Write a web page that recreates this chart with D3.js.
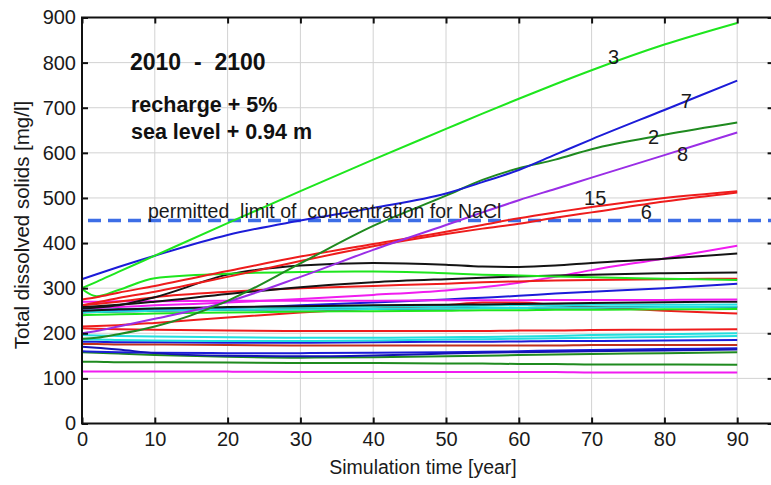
<!DOCTYPE html>
<html>
<head>
<meta charset="utf-8">
<script src="https://cdn.jsdelivr.net/npm/d3@7"></script>
<style>
  html, body { margin: 0; padding: 0; background: #fff; }
  svg { display: block; font-family: "Liberation Sans", Arial, sans-serif; }
</style>
</head>
<body>
<svg id="chart" width="771" height="485"></svg>
<script>
// Simulation years at which each TDS curve is sampled
const years = [0, 2, 5, 10, 20, 30, 40, 50, 55, 60, 65, 70, 80, 90];

// Total dissolved solids [mg/l] per observation well
const tdsW3   = [300, 314, 336, 372, 444, 515, 585, 653, 687, 720, 752, 783, 840, 888];
const tdsW7   = [320, 331, 347, 372, 418, 450, 478, 510, 535, 562, 596, 630, 695, 760];
const tdsW2   = [188, 190, 198, 215, 272, 355, 438, 505, 540, 566, 585, 608, 640, 667];
const tdsW8   = [200, 205, 215, 232, 270, 325, 385, 440, 468, 495, 520, 545, 595, 645];
const tdsW15  = [275, 280, 290, 305, 338, 370, 398, 425, 440, 455, 468, 480, 500, 515];
const tdsW6   = [262, 268, 278, 292, 325, 360, 393, 420, 432, 443, 456, 468, 492, 512];
const tdsG1   = [298, 282, 296, 322, 332, 336, 337, 333, 330, 328, 326, 324, 321, 318];
const tdsK1   = [255, 257, 262, 280, 330, 350, 356, 352, 348, 347, 350, 356, 365, 377];
const tdsK2   = [258, 260, 263, 270, 287, 302, 313, 320, 323, 326, 328, 330, 333, 335];
const tdsR1   = [262, 265, 270, 280, 292, 300, 305, 310, 313, 315, 317, 318, 320, 321];
const tdsM1   = [255, 256, 258, 262, 268, 276, 285, 295, 302, 312, 325, 340, 366, 394];
const tdsM2   = [270, 270, 271, 271, 272, 272, 272, 273, 273, 273, 274, 274, 274, 275];
const tdsK3   = [250, 251, 253, 255, 258, 260, 262, 263, 264, 265, 266, 267, 269, 270];
const tdsC1   = [252, 253, 254, 255, 257, 258, 259, 260, 261, 262, 262, 263, 263, 264];
const tdsC2   = [246, 247, 248, 250, 252, 253, 254, 255, 256, 256, 257, 257, 258, 259];
const tdsB1   = [248, 249, 250, 252, 256, 262, 268, 275, 279, 283, 288, 292, 300, 310];
const tdsG2   = [240, 241, 242, 244, 246, 248, 249, 250, 251, 251, 252, 252, 253, 254];
const tdsK4   = [246, 247, 248, 250, 252, 253, 254, 255, 256, 256, 257, 257, 258, 258];
const tdsR2   = [215, 216, 218, 223, 235, 246, 255, 262, 268, 268, 263, 258, 250, 244];
const tdsR3   = [211, 210, 209, 208, 206, 205, 205, 205, 205, 206, 206, 207, 208, 209];
const tdsC3   = [196, 195, 194, 193, 191, 190, 190, 191, 192, 193, 194, 196, 198, 200];
const tdsC4   = [186, 186, 185, 184, 183, 183, 184, 186, 187, 188, 189, 190, 192, 194];
const tdsB2   = [181, 181, 180, 180, 179, 179, 180, 181, 181, 182, 183, 183, 184, 185];
const tdsR4   = [176, 176, 175, 175, 174, 173, 173, 173, 173, 173, 173, 174, 174, 174];
const tdsB3   = [170, 168, 164, 156, 150, 149, 151, 155, 157, 158, 159, 160, 162, 164];
const tdsB4   = [160, 159, 158, 157, 156, 156, 157, 158, 159, 160, 162, 163, 165, 167];
const tdsG3   = [158, 157, 155, 152, 148, 146, 147, 149, 150, 152, 153, 154, 156, 158];
const tdsG4   = [137, 137, 136, 136, 135, 134, 134, 133, 133, 132, 132, 131, 131, 130];
const tdsM3   = [115, 115, 115, 115, 115, 114, 114, 114, 114, 114, 114, 113, 113, 113];

// Drawing order (bottom to top) and line colours
const seriesValues = [
  tdsM3, tdsG4, tdsG3, tdsB4, tdsB3, tdsR4, tdsB2, tdsC4, tdsC3, tdsR3, tdsR2,
  tdsK4, tdsG2, tdsB1, tdsC2, tdsC1, tdsK3, tdsM2, tdsM1, tdsR1, tdsK2, tdsK1,
  tdsG1, tdsW6, tdsW15, tdsW8, tdsW2, tdsW7, tdsW3
];
const seriesColors = [
  "#f01cf0", "#1f8a1f", "#1f8a1f", "#1c1cd8", "#1414b4", "#c0301c", "#1c1cd8", "#22dede", "#22dede", "#ee1c1c", "#ee1c1c",
  "#141414", "#1ee61e", "#1c1cd8", "#22dede", "#22dede", "#141414", "#f01cf0", "#f01cf0", "#ee1c1c", "#141414", "#141414",
  "#1ee61e", "#ee1c1c", "#ee1c1c", "#9a2ee6", "#1f8a1f", "#1c1cd8", "#1ee61e"
];

// Well numbers written next to their curves
const wellLabels = ["3", "7", "2", "8", "15", "6"];
const wellLabelYear = [73, 83, 78.5, 82.5, 70.5, 77.5];
const wellLabelTds  = [813, 716, 636, 598, 499, 468];

// Axis ticks
const xTicks = [0, 10, 20, 30, 40, 50, 60, 70, 80, 90];
const yTicks = [0, 100, 200, 300, 400, 500, 600, 700, 800, 900];

// Permitted limit for NaCl
const limitTds = 450;

const svg = d3.select("#chart");
const W = 771, H = 485;
const plotLeft = 82, plotRight = 773.6, plotTop = 17.5, plotBottom = 423.5;

svg.append("rect").attr("width", W).attr("height", H).attr("fill", "#fff");

const x = d3.scaleLinear().domain([0, 95]).range([plotLeft, plotRight]);
const y = d3.scaleLinear().domain([0, 900]).range([plotBottom, plotTop]);

// grid
const grid = svg.append("g").attr("stroke", "#d2d2d2").attr("stroke-width", 1);
grid.selectAll("line.gx").data(xTicks.filter(d => d > 0)).join("line")
  .attr("x1", d => x(d)).attr("x2", d => x(d)).attr("y1", plotTop).attr("y2", plotBottom);
grid.selectAll("line.gy").data(yTicks.filter(d => d > 0 && d < 900)).join("line")
  .attr("x1", plotLeft).attr("x2", plotRight).attr("y1", d => y(d)).attr("y2", d => y(d));

svg.append("defs").append("clipPath").attr("id", "plot")
  .append("rect").attr("x", plotLeft).attr("y", plotTop).attr("width", plotRight - plotLeft).attr("height", plotBottom - plotTop);

// limit line
const limitG = svg.append("g").attr("clip-path", "url(#plot)");
limitG.append("line")
  .attr("x1", x(0) + 6).attr("x2", W + 5).attr("y1", y(limitTds)).attr("y2", y(limitTds))
  .attr("stroke", "#3d6ee6").attr("stroke-width", 3.5).attr("stroke-dasharray", "13,7");

// curves
const line = d3.line().x((d, i) => x(years[i])).y(d => y(d)).curve(d3.curveMonotoneX);
const curves = svg.append("g").attr("clip-path", "url(#plot)").attr("fill", "none");
curves.selectAll("path").data(seriesValues).join("path")
  .attr("d", d => line(d))
  .attr("stroke", (d, i) => seriesColors[i])
  .attr("stroke-width", 2)
  .attr("stroke-linejoin", "round");

// axes (ticks point into the plot)
const xAxis = d3.axisBottom(x).tickValues(xTicks).tickSizeInner(-6).tickSizeOuter(0).tickPadding(8);
const yAxis = d3.axisLeft(y).tickValues(yTicks).tickSizeInner(-6).tickSizeOuter(0).tickPadding(6);
const xTop = d3.axisTop(x).tickValues(xTicks).tickSizeInner(-6).tickSizeOuter(0).tickFormat("");
const yRight = d3.axisRight(y).tickValues(yTicks).tickSizeInner(-6).tickSizeOuter(0).tickFormat("");

function styleAxis(g) {
  g.select(".domain").remove();
  g.selectAll(".tick line").attr("stroke", "#111").attr("stroke-width", 2);
  g.selectAll(".tick text").attr("fill", "#1a1a1a").style("font-size", "20px");
}
svg.append("g").attr("transform", `translate(0,${plotBottom})`).call(xAxis).call(styleAxis);
svg.append("g").attr("transform", `translate(${plotLeft},0)`).call(yAxis).call(styleAxis);
svg.append("g").attr("transform", `translate(0,${plotTop})`).call(xTop).call(styleAxis);
svg.append("g").attr("transform", `translate(${plotRight},0)`).call(yRight).call(styleAxis);

// frame
svg.append("rect").attr("x", plotLeft).attr("y", plotTop).attr("width", plotRight - plotLeft).attr("height", plotBottom - plotTop)
  .attr("fill", "none").attr("stroke", "#111").attr("stroke-width", 2);

// axis titles
svg.append("text").attr("x", 423).attr("y", 474).attr("text-anchor", "middle")
  .style("font-size", "19.5px").attr("fill", "#1a1a1a").text("Simulation time [year]");
svg.append("text").attr("transform", `translate(29,225) rotate(-90)`)
  .attr("text-anchor", "middle").style("font-size", "20.5px").attr("fill", "#1a1a1a")
  .text("Total dissolved solids [mg/l]");

// scenario annotation
const note = svg.append("g").attr("fill", "#111").style("font-weight", "bold");
note.append("text").attr("x", 130).attr("y", 70).style("font-size", "23px").style("white-space", "pre").text("2010  -  2100");
note.append("text").attr("x", 131).attr("y", 112).style("font-size", "21.5px").text("recharge + 5%");
note.append("text").attr("x", 131).attr("y", 139).style("font-size", "21.5px").text("sea level + 0.94 m");

// limit label
svg.append("text").attr("x", 148).attr("y", 218).style("font-size", "19.5px").attr("fill", "#1a1a1a")
  .style("white-space", "pre").text("permitted  limit of  concentration for NaCl");

// well numbers
svg.append("g").selectAll("text").data(wellLabels).join("text")
  .attr("x", (d, i) => x(wellLabelYear[i])).attr("y", (d, i) => y(wellLabelTds[i]))
  .attr("text-anchor", "middle").attr("dy", "0.35em")
  .style("font-size", "20px").attr("fill", "#1a1a1a").text(d => d);
</script>
</body>
</html>
